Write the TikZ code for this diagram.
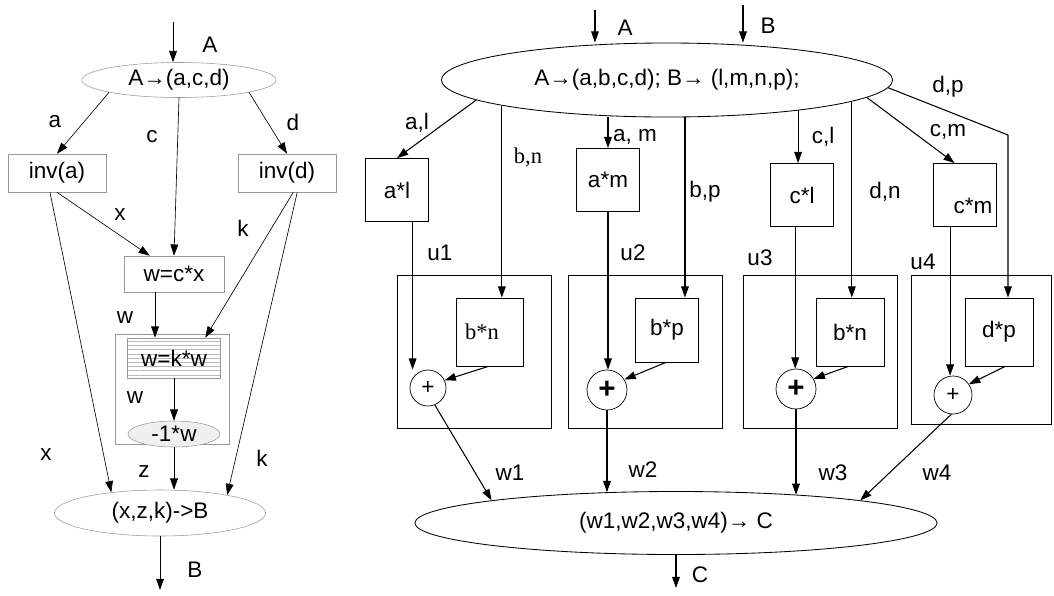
\documentclass[tikz,border=0pt]{standalone}
\usepackage{fontspec}
\setmainfont{Liberation Sans}
\newfontfamily\serifff{Liberation Serif}
\usetikzlibrary{arrows.meta, shapes.geometric, patterns}

\begin{document}
\begin{tikzpicture}[x=0.025cm, y=-0.025cm, >={Triangle[length=8pt,width=5.5pt]},
  every node/.style={font=\fontsize{16}{18}\selectfont},
  lbl/.style={inner sep=0pt},
  sflbl/.style={inner sep=0pt, font=\serifff\fontsize{16}{18}\selectfont},
  lbox/.style={draw=gray!80, line width=0.4pt, inner sep=0pt, minimum width=2.45cm, minimum height=0.95cm},
  loval/.style={ellipse, draw=gray!80, line width=0.4pt, inner sep=0pt},
  rbox/.style={draw, line width=0.6pt, inner sep=0pt, minimum size=1.575cm},
  grp/.style={draw, line width=0.5pt, minimum width=3.85cm, minimum height=3.825cm},
  roval/.style={ellipse, draw, line width=0.6pt, inner sep=0pt},
  plus/.style={circle, draw, line width=0.5pt, inner sep=0pt},
  lw/.style={line width=0.45pt},
  rw/.style={line width=0.75pt}]
\useasboundingbox (0,0) rectangle (1054,595);
% ---------- left: A -> (a,c,d) ... -> B
\coordinate (inA) at (173,22);
\node[loval, minimum width=4.85cm, minimum height=0.875cm] (ellA) at (179,80) {A→(a,c,d)};
\node[lbox] (invA) at (57,173) {inv(a)};
\node[lbox] (invD) at (287,173) {inv(d)};
\node[lbox, minimum width=2.5cm, minimum height=0.9cm] (wcx) at (174,274) {w=c*x};
\node[draw=gray!80, lw, minimum width=2.85cm, minimum height=2.75cm] (grpL) at (172,389) {};
\node[lbox, pattern=horizontal lines, pattern color=gray!55, minimum width=2.325cm, minimum height=1cm] (wkw) at (174,358) {w=k*w};
\node[loval, fill=gray!12, minimum width=2.3cm, minimum height=0.65cm] (negw) at (174,434) {-1*w};
\node[loval, minimum width=5.275cm, minimum height=1.15cm] (ellB) at (160,513) {(x,z,k)->B};
\coordinate (outB) at (160,590);
% connectors
\draw[->, lw] (inA) -- (inA |- ellA.north);
\draw[->, lw] (ellA.190) -- (invA.north);
\draw[->, lw] (ellA.south) -- (wcx.north);
\draw[->, lw] (ellA.350) -- (invD.north);
\draw[->, lw] (invA.south) -- (wcx.143);
\draw[->, lw] (invA.250) -- (ellB.157);
\draw[->, lw] (invD.288) -- (wkw.33);
\draw[->, lw] (invD.298) -- (ellB.15);
\draw[->, lw] (wcx.224) -- (wcx.224 |- wkw.north);
\draw[->, lw] (wkw.south) -- (negw.north);
\draw[->, lw] (negw.south) -- (negw.south |- ellB.north);
\draw[->, lw] (ellB.south) -- (outB);
% labels
\node[lbl] (lA) at (210,45) {A};
\node[lbl] (la) at (55,122) {a};
\node[lbl] (lc) at (152,137) {c};
\node[lbl] (ld) at (293,122) {d};
\node[lbl] (lx1) at (120,215) {x};
\node[lbl] (lk1) at (243,228) {k};
\node[lbl] (lw1) at (125,318) {w};
\node[lbl] (lw2) at (135,398) {w};
\node[lbl] (lx2) at (46,455) {x};
\node[lbl] (lz) at (144,472) {z};
\node[lbl] (lk2) at (262,458) {k};
\node[lbl] (lB) at (195,570) {B};
% ---------- right: A, B -> (w1,w2,w3,w4) -> C
\coordinate (inA2) at (595,10);
\coordinate (inB2) at (743,5);
\node[roval, minimum width=11.275cm, minimum height=1.85cm] (ellAB) at (667,80) {A→(a,b,c,d); B→ (l,m,n,p);};
\node[rbox] (al) at (397,190) {a*l};
\node[rbox] (am) at (608,180) {a*m};
\node[rbox] (cl) at (802,195) {c*l};
\node[rbox] (cm) at (965,195) {\hspace*{0.4cm}\raisebox{-0.45cm}[0pt][0pt]{c*m}};
\node[grp] (grp1) at (474,351.5) {};
\node[grp] (grp2) at (645,351.5) {};
\node[grp] (grp3) at (820.5,351.5) {};
\node[grp, minimum width=3.5cm, minimum height=3.725cm] (grp4) at (981,349.5) {};
\node[rbox, minimum width=1.675cm, minimum height=1.7cm, font=\serifff\fontsize{16}{18}\selectfont] (bn1) at (490,332) {b*n\hspace*{0.4cm}};
\node[rbox, minimum height=1.6cm] (bp) at (667,330) {b*p};
\node[rbox, minimum width=1.7cm, minimum height=1.7cm] (bn3) at (850,332) {b*n};
\node[rbox, minimum width=1.7cm, minimum height=1.7cm] (dp) at (999,332) {d*p};
\node[plus, minimum size=0.9cm] (p1) at (428,388) {+};
\node[plus, minimum size=1.0cm, font=\bfseries\fontsize{21}{21}\selectfont] (p2) at (607,390) {+};
\node[plus, minimum size=1.0cm, font=\bfseries\fontsize{21}{21}\selectfont] (p3) at (796,389) {+};
\node[plus, minimum size=0.95cm] (p4) at (953,395) {+};
\node[roval, minimum width=13.05cm, minimum height=1.575cm] (ellC) at (676,523) {(w1,w2,w3,w4)→ C};
\coordinate (dpk) at (1008,135);
\coordinate (outC) at (676,588);
% connectors
\draw[->, rw] (inA2) -- (inA2 |- ellAB.north);
\draw[->, rw] (inB2) -- (inB2 |- ellAB.north);
\draw[->, rw] (ellAB.186) -- (al.north);
\draw[->, rw] (bn1.71 |- ellAB.189) -- (bn1.71);
\draw[->, rw] (am.north |- ellAB.south) -- (am.north);
\draw[->, rw] (bp.61 |- ellAB.south) -- (bp.61);
\draw[->, rw] (cl.97 |- ellAB.347) -- (cl.97);
\draw[->, rw] (bn3.87 |- ellAB.353) -- (bn3.87);
\draw[->, rw] (ellAB.355) -- (cm.108);
\draw[->, rw] (ellAB.358) -- (dpk) -- (dpk |- dp.north);
\draw[->, rw] (al.296) -- (al.296 |- p1.north);
\draw[->, rw] (bn1.267) -- (p1.25);
\draw[->, rw] (p1.292) -- (ellC.173);
\draw[->, rw] (am.south) -- (am.south |- p2.north);
\draw[->, rw] (bp.268) -- (p2.31);
\draw[->, rw] (p2.south) -- (p2.south |- ellC.156);
\draw[->, rw] (cl.258) -- (cl.258 |- p3.north);
\draw[->, rw] (bn3.267) -- (p3.30);
\draw[->, rw] (p3.south) -- (p3.south |- ellC.13);
\draw[->, rw] (cm.245) -- (cm.245 |- p4.north);
\draw[->, rw] (dp.280) -- (p4.34);
\draw[->, rw] (p4.265) -- (ellC.7);
\draw[->, rw] (ellC.south) -- (outC);
% labels
\node[lbl] (lA2) at (625,28) {A};
\node[lbl] (lB2) at (768,26) {B};
\node[lbl] (lal) at (417,123) {a,l};
\node[sflbl] (lbn) at (528,157) {b,n};
\node[lbl] (lam) at (635,137) {a, m};
\node[lbl] (lbp) at (705,192) {b,p};
\node[lbl] (lcl) at (823,137) {c,l};
\node[lbl] (ldn) at (885,192) {d,n};
\node[lbl] (lcm) at (948,132) {c,m};
\node[lbl] (ldp) at (948,87) {d,p};
\node[lbl] (lu1) at (440,253) {u1};
\node[lbl] (lu2) at (633,253) {u2};
\node[lbl] (lu3) at (760,258) {u3};
\node[lbl] (lu4) at (923,262) {u4};
\node[lbl] (lw1r) at (510,473) {w1};
\node[lbl] (lw2r) at (643,470) {w2};
\node[lbl] (lw3r) at (833,473) {w3};
\node[lbl] (lw4r) at (937,473) {w4};
\node[lbl] (lC) at (700,575) {C};
\end{tikzpicture}
\end{document}
